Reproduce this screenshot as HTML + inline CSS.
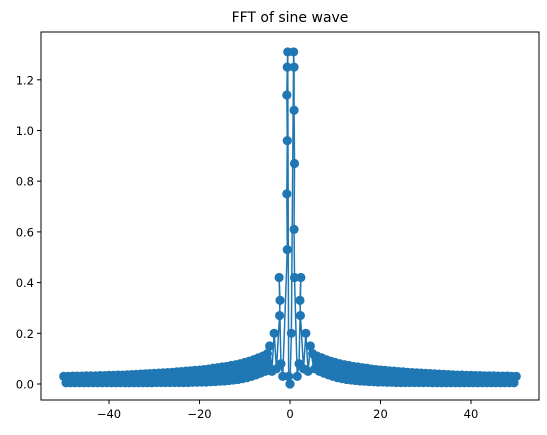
<!DOCTYPE html>
<html><head><meta charset="utf-8"><style>
body{margin:0;background:#fff;}
svg{display:block;font-family:"DejaVu Sans","Liberation Sans",sans-serif;}
</style></head><body>
<svg id="chart" width="547" height="435" viewBox="0 0 547 435">
<rect width="547" height="435" fill="#fff"/>
<text x="290" y="22" text-anchor="middle" font-size="14" fill="#000">FFT of sine wave</text>
<g id="plot"></g>
<rect x="41" y="32" width="498" height="368" fill="none" stroke="#000" stroke-width="1"/>
<g id="xticks"></g>
<g id="yticks"></g>
</svg>
<script>
// negative tail: high values at integer x, low values at x+0.5
const negX = [-50,-49,-48,-47,-46,-45,-44,-43,-42,-41,-40,-39,-38,-37,-36,-35,-34,-33,-32,-31,-30,-29,-28,-27,-26,-25,-24,-23,-22,-21,-20,-19,-18,-17,-16,-15,-14,-13,-12,-11,-10,-9,-8,-7,-6,-5];
const negHigh = [0.030,0.030,0.031,0.031,0.031,0.032,0.032,0.032,0.033,0.033,0.034,0.034,0.035,0.035,0.036,0.037,0.038,0.039,0.040,0.041,0.042,0.043,0.044,0.045,0.046,0.048,0.049,0.051,0.052,0.054,0.055,0.057,0.059,0.062,0.064,0.067,0.069,0.073,0.076,0.080,0.085,0.090,0.096,0.103,0.110,0.120];
const negLow = [0.005,0.005,0.005,0.005,0.005,0.005,0.005,0.005,0.005,0.005,0.005,0.005,0.005,0.005,0.005,0.005,0.005,0.005,0.005,0.005,0.006,0.006,0.006,0.006,0.006,0.006,0.006,0.006,0.007,0.007,0.008,0.008,0.009,0.010,0.011,0.012,0.014,0.016,0.018,0.021,0.025,0.030,0.036,0.043,0.050,0.060];
// centre region
const midX = [-4.5,-4,-3.5,-3,-2.3,-2.2,-2.4,-2,-1.6,-0.6,-0.7,-0.6,-0.7,-0.6,-0.5,-0.3,0,0.3,0.8,0.9,0.9,1.0,0.9,1.0,1.6,2.0,2.4,2.2,2.3,3,3.5,4,4.5];
const midY = [0.15,0.05,0.2,0.06,0.27,0.33,0.42,0.08,0.03,0.53,0.75,0.96,1.14,1.25,1.31,0.03,0,0.2,1.31,1.25,1.08,0.87,0.61,0.42,0.03,0.08,0.42,0.33,0.27,0.06,0.2,0.05,0.15];
// positive tail: high values at integer x, low values at x+0.5
const posX = [5,6,7,8,9,10,11,12,13,14,15,16,17,18,19,20,21,22,23,24,25,26,27,28,29,30,31,32,33,34,35,36,37,38,39,40,41,42,43,44,45,46,47,48,49,50];
const posHigh = [0.120,0.110,0.103,0.096,0.090,0.085,0.080,0.076,0.073,0.069,0.067,0.064,0.062,0.059,0.057,0.055,0.054,0.052,0.051,0.049,0.048,0.046,0.045,0.044,0.043,0.042,0.041,0.040,0.039,0.038,0.037,0.036,0.035,0.035,0.034,0.034,0.033,0.033,0.032,0.032,0.032,0.031,0.031,0.031,0.030,0.030];
const posLow = [0.060,0.050,0.043,0.036,0.030,0.025,0.021,0.018,0.016,0.014,0.012,0.011,0.010,0.009,0.008,0.008,0.007,0.007,0.006,0.006,0.006,0.006,0.006,0.006,0.006,0.006,0.005,0.005,0.005,0.005,0.005,0.005,0.005,0.005,0.005,0.005,0.005,0.005,0.005,0.005,0.005,0.005,0.005,0.005,0.005,0.005];
const xTickVals = [-40,-20,0,20,40];
const xTickLabels = ["\u221240","\u221220","0","20","40"];
const yTickVals = [0,0.2,0.4,0.6,0.8,1.0,1.2];
const yTickLabels = ["0.0","0.2","0.4","0.6","0.8","1.0","1.2"];

const NS = "http://www.w3.org/2000/svg";
const xScale = v => 290 + v * 4.525;
const yScale = v => 384 - v * 253.5;
const pts = [];
negX.forEach((x, i) => { pts.push([x, negHigh[i]]); pts.push([x + 0.5, negLow[i]]); });
midX.forEach((x, i) => pts.push([x, midY[i]]));
posX.forEach((x, i) => { pts.push([x, posHigh[i]]); if (i < posX.length - 1) pts.push([x + 0.5, posLow[i]]); });

const plot = document.getElementById('plot');
// filled band between high and low envelopes (dense overlapping markers)
function band(xArr, hi, lo, name) {
  let s = '';
  xArr.forEach((x, i) => { s += (i ? 'L' : 'M') + xScale(x).toFixed(2) + ' ' + yScale(hi[i]).toFixed(2); });
  for (let i = xArr.length - 1; i >= 0; i--) s += 'L' + xScale(xArr[i] + 0.5).toFixed(2) + ' ' + yScale(lo[i]).toFixed(2);
  s += 'Z';
  const p = document.createElementNS(NS, 'path');
  p.setAttribute('d', s);
  p.setAttribute('fill', '#1f77b4');
  p.setAttribute('stroke', '#1f77b4');
  p.setAttribute('stroke-width', '4');
  
  
  plot.appendChild(p);
}
band(negX, negHigh, negLow, 'negative-tail-band');
band(posX.slice(0, -1), posHigh.slice(0, -1), posLow.slice(0, -1), 'positive-tail-band');

let d = '';
pts.forEach((p, i) => { d += (i ? 'L' : 'M') + xScale(p[0]).toFixed(2) + ' ' + yScale(p[1]).toFixed(2); });
const line = document.createElementNS(NS, 'path');
line.setAttribute('d', d);
line.setAttribute('fill', 'none');
line.setAttribute('stroke', '#1f77b4');
line.setAttribute('stroke-width', '1.5');


plot.appendChild(line);
pts.forEach(p => {
  const c = document.createElementNS(NS, 'circle');
  c.setAttribute('cx', xScale(p[0]));
  c.setAttribute('cy', yScale(p[1]));
  c.setAttribute('r', 4.6);
  c.setAttribute('fill', '#1f77b4');
  
  
  plot.appendChild(c);
});
const xt = document.getElementById('xticks');
xTickVals.forEach((v, i) => {
  const x = xScale(v);
  const t = document.createElementNS(NS, 'line');
  t.setAttribute('x1', x); t.setAttribute('x2', x); t.setAttribute('y1', 400); t.setAttribute('y2', 404);
  t.setAttribute('stroke', '#000');
  
  
  xt.appendChild(t);
  const l = document.createElementNS(NS, 'text');
  l.setAttribute('x', x); l.setAttribute('y', 418); l.setAttribute('text-anchor', 'middle');
  l.setAttribute('font-size', '11.5'); l.textContent = xTickLabels[i];
  
  
  xt.appendChild(l);
});
const yt = document.getElementById('yticks');
yTickVals.forEach((v, i) => {
  const y = yScale(v);
  const t = document.createElementNS(NS, 'line');
  t.setAttribute('x1', 37); t.setAttribute('x2', 41); t.setAttribute('y1', y); t.setAttribute('y2', y);
  t.setAttribute('stroke', '#000');
  
  
  yt.appendChild(t);
  const l = document.createElementNS(NS, 'text');
  l.setAttribute('x', 34); l.setAttribute('y', y + 4.5); l.setAttribute('text-anchor', 'end');
  l.setAttribute('font-size', '11.5'); l.textContent = yTickLabels[i];
  
  
  yt.appendChild(l);
});
</script>
</body></html>
